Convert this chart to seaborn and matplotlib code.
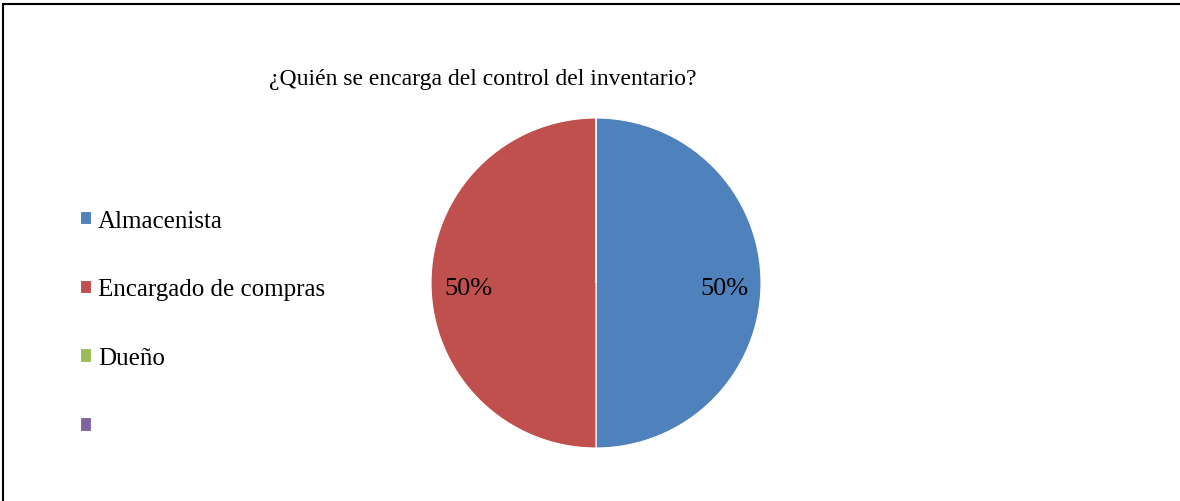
import matplotlib
matplotlib.use("Agg")
from matplotlib import pyplot as plt
from matplotlib.patches import Rectangle
import seaborn as sns

# data
labels = ["Almacenista", "Encargado de compras", "Dueño", ""]
values = [50, 50, 0, 0]
colors = ["#4F81BD", "#C0504D", "#9BBB59", "#8064A2"]
title = "¿Quién se encarga del control del inventario?"

sns.set_theme(style="white")
plt.rcParams['font.family'] = ['Liberation Serif', 'DejaVu Serif']
plt.rcParams['text.color'] = 'black'

fig = plt.figure(figsize=(11.8, 5.02), dpi=100)
W, H = 1180, 502

# pie area: centre (596, 284), radius 165 px
r = 165
ax = fig.add_axes([(596 - r) / W, 1 - (284 + r) / H, 2 * r / W, 2 * r / H])


def pct(p):
    return "{:.0f}%".format(p) if p > 0 else ""


wedges, texts, autotexts = ax.pie(
    values, colors=colors, startangle=90, counterclock=False,
    autopct=pct, pctdistance=0.8,
    wedgeprops=dict(edgecolor="white", linewidth=0.8),
    textprops=dict(fontsize=19, color="black"))
for t in autotexts:
    x, y = t.get_position()
    t.set_position((x * 0.97, y - 0.03))
ax.set_xlim(-1, 1)
ax.set_ylim(-1, 1)
ax.set_aspect("equal")

fig.text(483 / W, 1 - 79 / H, title, ha="center", va="center", fontsize=17)

# legend on the left
leg = fig.legend(wedges, labels, loc="upper left",
                 bbox_to_anchor=(57 / W, 1 - 188 / H),
                 frameon=False, fontsize=18, handlelength=0.45,
                 handleheight=0.45, handletextpad=0.3, labelspacing=1.87)

# outer frame (top and left edges visible)
fig.add_artist(Rectangle((3 / W, -0.05), 1.1, 1 - 5 / H + 0.05,
                         transform=fig.transFigure, fill=False,
                         edgecolor="black", linewidth=1.5))

fig.savefig("out.png", dpi=100)
